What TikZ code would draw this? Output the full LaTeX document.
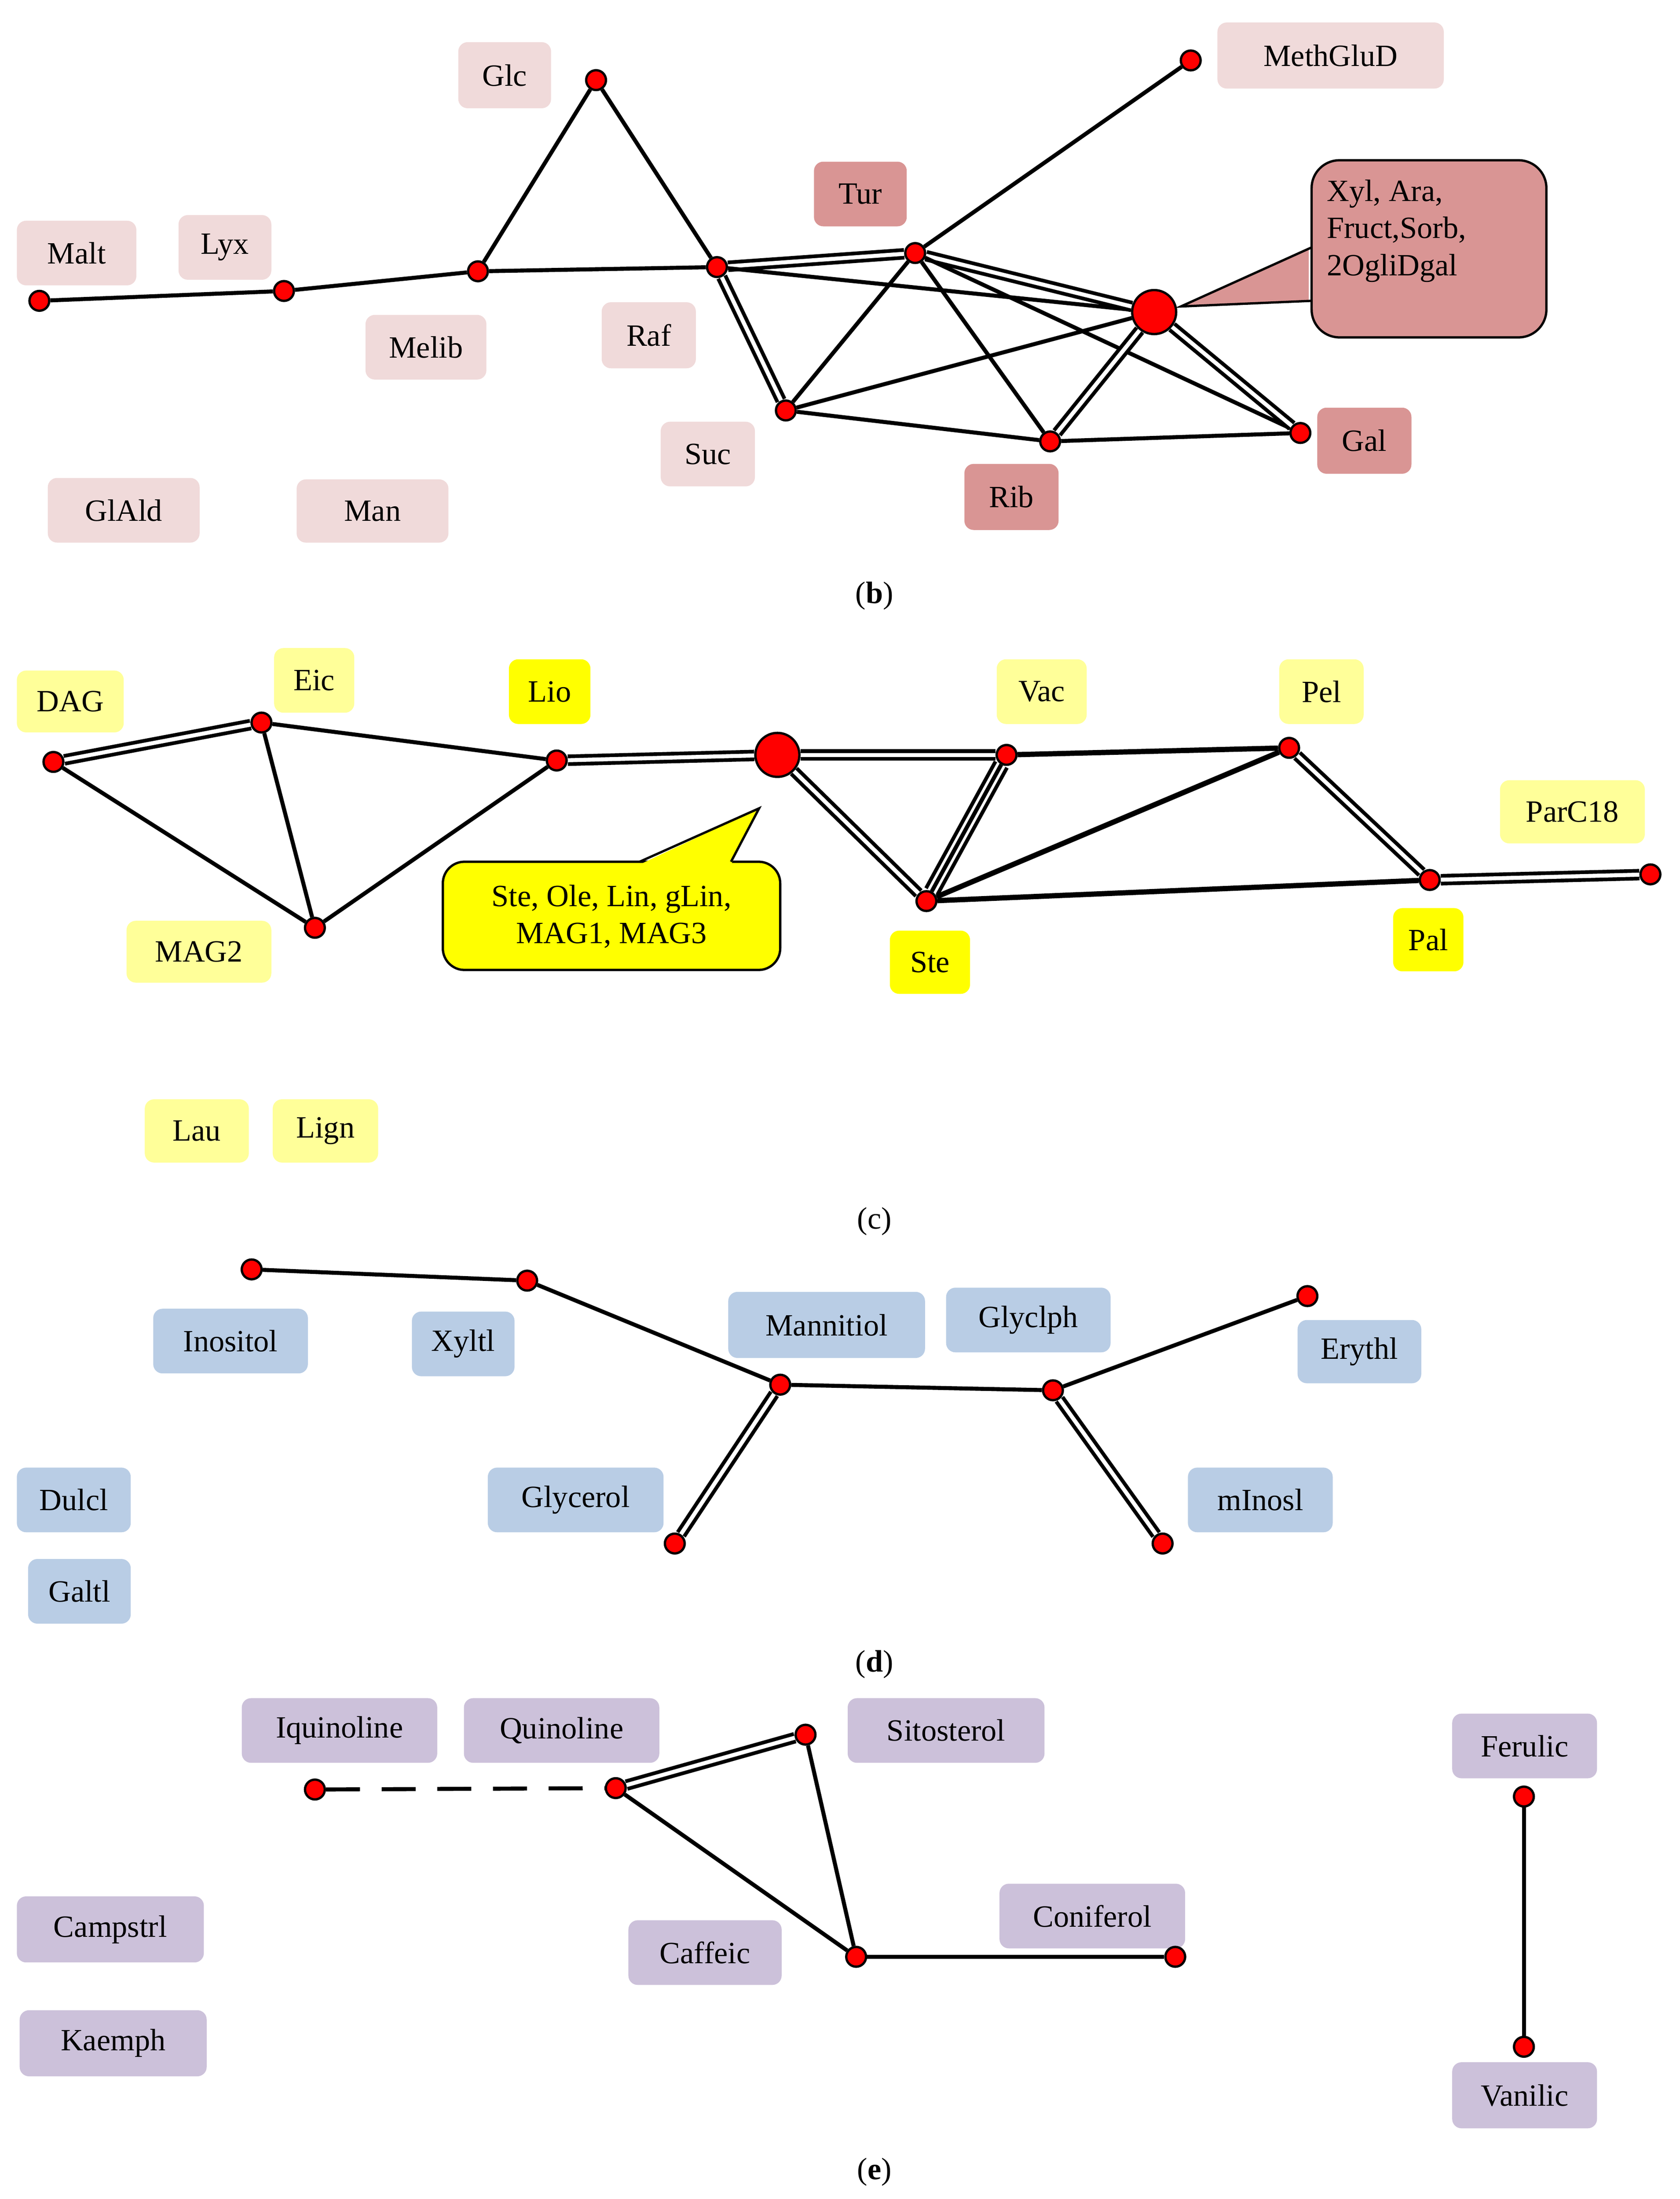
\documentclass[tikz,border=0pt]{standalone}
\usepackage{fontspec}
\setmainfont{Liberation Serif}
\usetikzlibrary{backgrounds}
\definecolor{pkL}{HTML}{F0DADA}
\definecolor{pkD}{HTML}{D99594}
\definecolor{ylL}{HTML}{FFFF99}
\definecolor{ylD}{HTML}{FFFF00}
\definecolor{blL}{HTML}{B9CDE5}
\definecolor{vlL}{HTML}{CCC1DA}
\tikzset{
  dot/.style={circle,fill=red,draw=black,line width=1.5pt,inner sep=0pt,minimum size=0.45cm},
  big/.style={circle,fill=red,draw=black,line width=1.5pt,inner sep=0pt,minimum size=1cm},
  e/.style={line width=2.6pt},
  dd/.style={double=white,line width=2.4pt,double distance=2.6pt},
  lab/.style={rounded corners=6pt,inner sep=0pt,font=\fontsize{20}{24}\selectfont},
  txt/.style={font=\fontsize{20}{24}\selectfont}
}
\newcommand{\lbl}[7]{%
  \pgfmathsetmacro{\lw}{(#3-#2)*0.031958}%
  \pgfmathsetmacro{\lh}{(#5-#4)*0.031958}%
  \node[lab,fill=#6,minimum width=\lw cm,minimum height=\lh cm] (#1) at ({(#2+#3)/2},{(#4+#5)/2}) {#7};}
\begin{document}
\begin{tikzpicture}[x=0.031958cm,y=-0.031958cm]
\useasboundingbox (0,0) rectangle (1195,1564.3);
% ---------- panel b
\lbl{lMalt}{12}{97}{157}{203}{pkL}{Malt}
\lbl{lLyx}{127}{193}{153}{199}{pkL}{Lyx}
\lbl{lGlc}{326}{392}{30}{77}{pkL}{Glc}
\lbl{lMelib}{260}{346}{224}{270}{pkL}{Melib}
\lbl{lRaf}{428}{495}{215}{262}{pkL}{Raf}
\lbl{lSuc}{470}{537}{300}{346}{pkL}{Suc}
\lbl{lTur}{579}{645}{115}{161}{pkD}{Tur}
\lbl{lMeth}{866}{1027}{16}{63}{pkL}{MethGluD}
\lbl{lGlAld}{34}{142}{340}{386}{pkL}{GlAld}
\lbl{lMan}{211}{319}{341}{386}{pkL}{Man}
\lbl{lRib}{686}{753}{330}{377}{pkD}{Rib}
\lbl{lGal}{937}{1004}{290}{337}{pkD}{Gal}
\draw[fill=pkD,line width=1.5pt,rounded corners=18pt] (933,114) rectangle (1100,240);
\fill[pkD] (931,176) -- (840,218) -- (931,214) -- cycle;
\draw[line width=1.5pt] (933,176) -- (840,218) -- (933,214);
\node[txt,align=left,anchor=north west] (cb) at (940,124) {Xyl, Ara,\\Fruct,Sorb,\\2OgliDgal};
\node[dot] (b1) at (28,214) {};
\node[dot] (b2) at (202,207) {};
\node[dot] (b3) at (340,193) {};
\node[dot] (b4) at (424,57) {};
\node[dot] (b5) at (510,190) {};
\node[dot] (b6) at (651,180) {};
\node[dot] (b7) at (847,43) {};
\node[big] (b8) at (821,222) {};
\node[dot] (b9) at (559,292) {};
\node[dot] (b10) at (747,314) {};
\node[dot] (b11) at (925,308) {};
\node[txt] (capb) at (622,424) {(\textbf{b})};
% ---------- panel c
\lbl{lDAG}{12}{88}{477}{521}{ylL}{DAG}
\lbl{lEic}{195}{252}{461}{507}{ylL}{Eic}
\lbl{lLio}{362}{420}{469}{515}{ylD}{Lio}
\lbl{lVac}{709}{773}{469}{515}{ylL}{Vac}
\lbl{lPel}{910}{970}{469}{515}{ylL}{Pel}
\lbl{lPar}{1067}{1170}{555}{600}{ylL}{ParC18}
\lbl{lMAG2}{90}{193}{655}{699}{ylL}{MAG2}
\lbl{lSte}{633}{690}{662}{707}{ylD}{Ste}
\lbl{lPal}{991}{1041}{646}{691}{ylD}{Pal}
\lbl{lLau}{103}{177}{782}{827}{ylL}{Lau}
\lbl{lLign}{194}{269}{782}{827}{ylL}{Lign}
\draw[fill=ylD,line width=1.5pt,rounded corners=14pt] (315,613) rectangle (555,690);
\fill[ylD] (455,615) -- (540,575) -- (520,615) -- cycle;
\draw[line width=1.5pt] (455,613) -- (540,575) -- (520,613);
\node[txt,align=center] (cc) at (435,652) {Ste, Ole, Lin, gLin,\\MAG1, MAG3};
\node[dot] (c1) at (38,542) {};
\node[dot] (c2) at (186,514) {};
\node[dot] (c3) at (224,660) {};
\node[dot] (c4) at (396,541) {};
\node[big] (c5) at (553,537) {};
\node[dot] (c6) at (716,537) {};
\node[dot] (c7) at (917,532) {};
\node[dot] (c8) at (659,641) {};
\node[dot] (c9) at (1017,626) {};
\node[dot] (c10) at (1174,622) {};
\node[txt] (capc) at (622,869) {(c)};
% ---------- panel d
\lbl{lIno}{109}{219}{931}{977}{blL}{Inositol}
\lbl{lXyl}{293}{366}{933}{979}{blL}{Xyltl}
\lbl{lMann}{518}{658}{919}{966}{blL}{Mannitiol}
\lbl{lGlyc}{673}{790}{916}{962}{blL}{Glyclph}
\lbl{lEry}{923}{1011}{939}{984}{blL}{Erythl}
\lbl{lDul}{12}{93}{1044}{1090}{blL}{Dulcl}
\lbl{lGlyo}{347}{472}{1044}{1090}{blL}{Glycerol}
\lbl{lmIn}{845}{948}{1044}{1090}{blL}{mInosl}
\lbl{lGal2}{20}{93}{1109}{1155}{blL}{Galtl}
\node[dot] (d1) at (179,903) {};
\node[dot] (d2) at (375,911) {};
\node[dot] (d3) at (555,985) {};
\node[dot] (d4) at (749,989) {};
\node[dot] (d5) at (930,922) {};
\node[dot] (d6) at (480,1098) {};
\node[dot] (d7) at (827,1098) {};
\node[txt] (capd) at (622,1184) {(\textbf{d})};
% ---------- panel e
\lbl{lIq}{172}{311}{1208}{1254}{vlL}{Iquinoline}
\lbl{lQ}{330}{469}{1208}{1254}{vlL}{Quinoline}
\lbl{lSit}{603}{743}{1208}{1254}{vlL}{Sitosterol}
\lbl{lFer}{1033}{1136}{1219}{1265}{vlL}{Ferulic}
\lbl{lCon}{711}{843}{1340}{1386}{vlL}{Coniferol}
\lbl{lCaf}{447}{556}{1366}{1412}{vlL}{Caffeic}
\lbl{lCam}{12}{145}{1349}{1396}{vlL}{Campstrl}
\lbl{lKae}{14}{147}{1430}{1477}{vlL}{Kaemph}
\lbl{lVan}{1033}{1136}{1467}{1514}{vlL}{Vanilic}
\node[dot] (e1) at (224,1273) {};
\node[dot] (e2) at (438,1272) {};
\node[dot] (e3) at (573,1234) {};
\node[dot] (e4) at (609,1392) {};
\node[dot] (e5) at (836,1392) {};
\node[dot] (e6) at (1084,1278) {};
\node[dot] (e7) at (1084,1456) {};
\node[txt] (cape) at (622,1545) {(\textbf{e})};
% ---------- edges
\begin{pgfonlayer}{background}
\draw[e] (b1)--(b2); \draw[e] (b2)--(b3); \draw[e] (b3)--(b4); \draw[e] (b4)--(b5);
\draw[e] (b3)--(b5); \draw[dd] (b5)--(b6); \draw[e] (b6)--(b7); \draw[e] (b5)--(b8);
\draw[dd] (b5)--(b9); \draw[e] (b6)--(b9); \draw[e] (b6)--(b10); \draw[dd] (b6)--(b8);
\draw[e] (b6)--(b11); \draw[e] (b9)--(b8); \draw[e] (b9)--(b10); \draw[dd] (b10)--(b8);
\draw[e] (b10)--(b11); \draw[dd] (b8)--(b11);
\draw[dd] (c1)--(c2); \draw[e] (c1)--(c3); \draw[e] (c2)--(c3); \draw[e] (c2)--(c4);
\draw[e] (c3)--(c4); \draw[dd] (c4)--(c5); \draw[dd] (c5)--(c6); \draw[e,line width=3.4pt] (c6)--(c7);
\draw[dd] (c5)--(c8); \draw[dd,double distance=6pt] (c6)--(c8); \draw[e] (c6)--(c8);
\draw[e,line width=3.4pt] (c8)--(c7); \draw[dd] (c7)--(c9); \draw[e,line width=3.4pt] (c8)--(c9); \draw[dd] (c9)--(c10);
\draw[e] (d1)--(d2); \draw[e] (d2)--(d3); \draw[e] (d3)--(d4); \draw[e] (d4)--(d5);
\draw[dd] (d3)--(d6); \draw[dd] (d4)--(d7);
\draw[e,dash pattern=on 22pt off 14pt] (e1)--(e2); \draw[dd] (e2)--(e3); \draw[e] (e2)--(e4);
\draw[e] (e3)--(e4); \draw[e] (e4)--(e5); \draw[e] (e6)--(e7);
\end{pgfonlayer}
\end{tikzpicture}
\end{document}
